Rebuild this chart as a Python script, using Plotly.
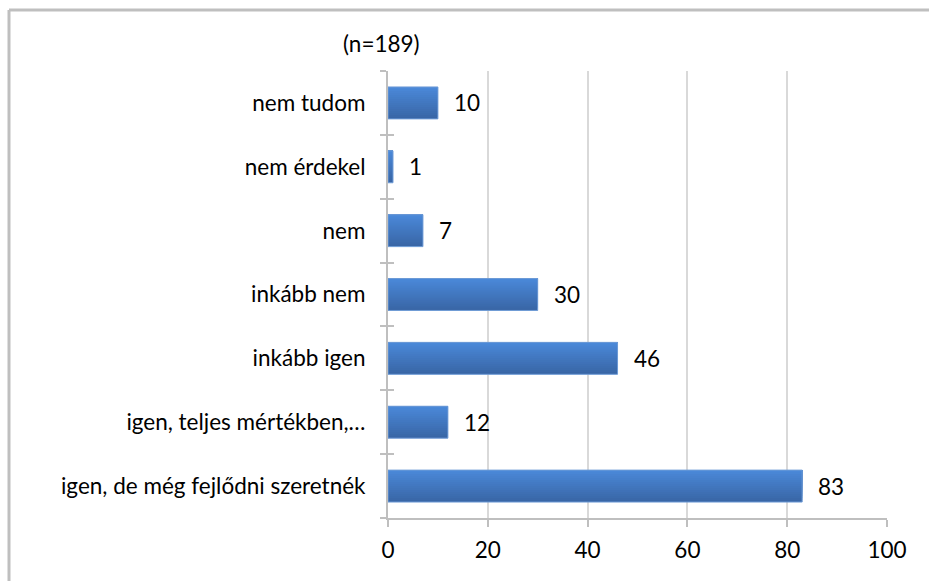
import plotly.graph_objects as go

# data (bottom to top as plotted)
categories = [
    "igen, de még fejlődni szeretnék",
    "igen, teljes mértékben,…",
    "inkább igen",
    "inkább nem",
    "nem",
    "nem érdekel",
    "nem tudom",
]
values = [83, 12, 46, 30, 7, 1, 10]
title_text = "(n=189)"
x_ticks = [0, 20, 40, 60, 80, 100]

FONT = "Lato, 'Open Sans', sans-serif"
FS = 22.5
GRAY = "#BFBFBF"

fig = go.Figure()

# gradient simulated with overlapping bands (dark bottom -> light top)
bar_w = 0.5
n_stripes = 16
c_bot = (0x39, 0x66, 0xA6)
c_top = (0x4A, 0x88, 0xD8)
sw = bar_w / n_stripes
for i in range(n_stripes):
    t = i / (n_stripes - 1)
    c = tuple(round(c_bot[k] + (c_top[k] - c_bot[k]) * t) for k in range(3))
    fig.add_trace(go.Bar(
        x=values, y=categories, orientation="h",
        width=bar_w - i * sw, offset=-bar_w / 2 + i * sw,
        marker=dict(color="rgb(%d,%d,%d)" % c, line=dict(width=0)),
        hoverinfo="skip", showlegend=False,
    ))
# outline
fig.add_trace(go.Bar(
    x=values, y=categories, orientation="h",
    width=bar_w, offset=-bar_w / 2,
    marker=dict(color="rgba(0,0,0,0)", line=dict(color="#6E9BD6", width=1)),
    showlegend=False,
))
# dummy trace for inner tick marks on overlay axis
fig.add_trace(go.Bar(
    x=values, y=categories, orientation="h", yaxis="y2",
    marker=dict(color="rgba(0,0,0,0)", line=dict(width=0)),
    hoverinfo="skip", showlegend=False,
))

annotations = []
for c, v in zip(categories, values):
    annotations.append(dict(
        x=v, y=c, xref="x", yref="y", text=str(v), showarrow=False,
        xanchor="left", xshift=14, yshift=0,
        font=dict(family=FONT, size=FS, color="#000000"),
    ))
annotations.append(dict(
    x=(381 - 388) / 499, y=(518 - 44) / 447, xref="paper", yref="paper",
    text=title_text, showarrow=False, xanchor="center", yanchor="middle",
    font=dict(family=FONT, size=FS, color="#000000"),
))

fig.update_layout(
    width=929, height=581,
    margin=dict(l=388, r=42, t=71, b=63, autoexpand=False),
    paper_bgcolor="white", plot_bgcolor="white",
    barmode="overlay",
    font=dict(family=FONT, size=FS, color="#000000"),
    xaxis=dict(
        range=[0, 100], tickvals=x_ticks, ticktext=[str(t) for t in x_ticks],
        showgrid=True, gridcolor="#D9D9D9", gridwidth=2,
        showline=True, linecolor=GRAY, linewidth=2,
        ticks="outside", ticklen=7, tickcolor=GRAY, tickwidth=2,
        ticklabelstandoff=4,
        zeroline=False, fixedrange=True,
    ),
    yaxis=dict(
        categoryorder="array", categoryarray=categories,
        showgrid=False, showline=True, linecolor=GRAY, linewidth=2,
        ticks="outside", ticklen=6, tickcolor=GRAY, tickwidth=2,
        tickson="boundaries", ticklabelstandoff=16, fixedrange=True,
    ),
    yaxis2=dict(
        overlaying="y", matches="y", side="left",
        categoryorder="array", categoryarray=categories,
        showgrid=False, showline=False, showticklabels=False,
        ticks="inside", ticklen=6, tickcolor=GRAY, tickwidth=2,
        tickson="boundaries", fixedrange=True,
    ),
    annotations=annotations,
    shapes=[
        dict(type="line", xref="paper", yref="paper",
             x0=(9 - 388) / 499, x1=(9 - 388) / 499,
             y0=(518 - 10) / 447, y1=(518 - 600) / 447,
             line=dict(color=GRAY, width=3)),
        dict(type="line", xref="paper", yref="paper",
             x0=(9 - 388) / 499, x1=(960 - 388) / 499,
             y0=(518 - 10) / 447, y1=(518 - 10) / 447,
             line=dict(color=GRAY, width=3)),
    ],
)

fig.write_html(
    "out.html",
    config={"displayModeBar": False, "staticPlot": True},
    post_script="document.body.style.margin='0';document.body.style.overflow='hidden';",
)
